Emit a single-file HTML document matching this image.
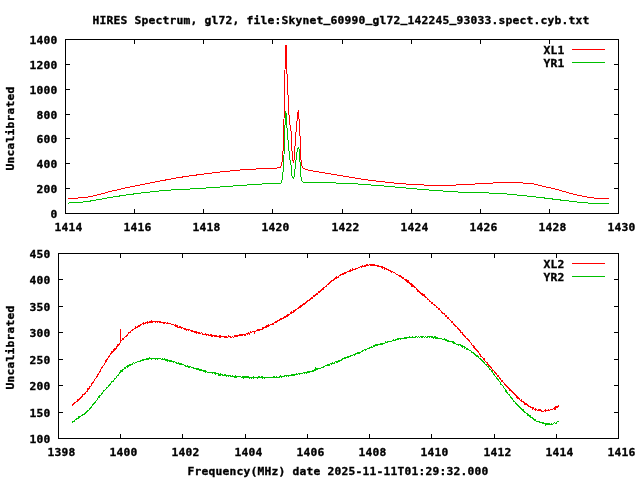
<!DOCTYPE html>
<html><head><meta charset="utf-8"><title>HIRES Spectrum</title>
<style>
html,body{margin:0;padding:0;background:#fff;}
body{width:640px;height:480px;overflow:hidden;}
svg{display:block;}
svg text{font-family:"DejaVu Sans Mono", "Liberation Mono", monospace;font-weight:bold;font-size:11.3px;letter-spacing:0.1968px;fill:#000;stroke:#000;stroke-width:0.35px;white-space:pre;}
.g{shape-rendering:crispEdges;}
</style></head><body>
<svg width="640" height="480" viewBox="0 0 640 480">
<rect width="640" height="480" fill="#fff"/>
<g class="g">
<polyline points="68.0,198.0 69.0,198.0 70.0,198.0 71.0,198.0 72.0,198.0 73.0,198.0 74.0,198.0 75.0,198.0 76.0,198.0 77.0,198.0 78.0,198.0 79.0,197.9 80.0,197.8 81.0,197.8 82.0,197.7 83.0,197.6 84.0,197.5 85.0,197.4 86.0,197.3 87.0,197.1 88.0,197.0 89.0,196.8 90.0,196.6 91.0,196.4 92.0,196.2 93.0,195.9 94.0,195.7 95.0,195.5 96.0,195.2 97.0,195.0 98.0,194.8 99.0,194.5 100.0,194.3 101.0,194.0 102.0,193.7 103.0,193.5 104.0,193.2 105.0,192.9 106.0,192.6 107.0,192.4 108.0,192.1 109.0,191.9 110.0,191.6 111.0,191.4 112.0,191.1 113.0,190.9 114.0,190.6 115.0,190.4 116.0,190.2 117.0,189.9 118.0,189.7 119.0,189.5 120.0,189.3 121.0,189.0 122.0,188.8 123.0,188.6 124.0,188.4 125.0,188.1 126.0,187.9 127.0,187.7 128.0,187.5 129.0,187.3 130.0,187.1 131.0,186.8 132.0,186.6 133.0,186.4 134.0,186.2 135.0,186.0 136.0,185.8 137.0,185.6 138.0,185.4 139.0,185.2 140.0,185.0 141.0,184.8 142.0,184.6 143.0,184.4 144.0,184.2 145.0,184.0 146.0,183.8 147.0,183.6 148.0,183.4 149.0,183.2 150.0,183.0 151.0,182.8 152.0,182.6 153.0,182.4 154.0,182.2 155.0,182.0 156.0,181.8 157.0,181.6 158.0,181.4 159.0,181.2 160.0,181.0 161.0,180.8 162.0,180.6 163.0,180.4 164.0,180.2 165.0,180.1 166.0,179.9 167.0,179.7 168.0,179.5 169.0,179.3 170.0,179.2 171.0,179.0 172.0,178.8 173.0,178.6 174.0,178.4 175.0,178.3 176.0,178.1 177.0,177.9 178.0,177.7 179.0,177.6 180.0,177.4 181.0,177.2 182.0,177.1 183.0,176.9 184.0,176.8 185.0,176.6 186.0,176.4 187.0,176.3 188.0,176.2 189.0,176.0 190.0,175.9 191.0,175.7 192.0,175.6 193.0,175.5 194.0,175.3 195.0,175.2 196.0,175.1 197.0,174.9 198.0,174.8 199.0,174.7 200.0,174.5 201.0,174.4 202.0,174.3 203.0,174.1 204.0,174.0 205.0,173.8 206.0,173.7 207.0,173.6 208.0,173.5 209.0,173.3 210.0,173.2 211.0,173.1 212.0,173.0 213.0,172.8 214.0,172.7 215.0,172.6 216.0,172.5 217.0,172.4 218.0,172.3 219.0,172.2 220.0,172.0 221.0,171.9 222.0,171.8 223.0,171.7 224.0,171.6 225.0,171.5 226.0,171.4 227.0,171.3 228.0,171.2 229.0,171.1 230.0,171.0 231.0,170.9 232.0,170.8 233.0,170.7 234.0,170.6 235.0,170.5 236.0,170.4 237.0,170.3 238.0,170.2 239.0,170.1 240.0,170.0 241.0,169.9 242.0,169.8 243.0,169.7 244.0,169.6 245.0,169.5 246.0,169.5 247.0,169.4 248.0,169.3 249.0,169.3 250.0,169.2 251.0,169.2 252.0,169.1 253.0,169.1 254.0,169.0 255.0,169.0 256.0,169.0 257.0,168.9 258.0,168.9 259.0,168.9 260.0,168.9 261.0,168.8 262.0,168.8 263.0,168.8 264.0,168.7 265.0,168.7 266.0,168.7 267.0,168.7 268.0,168.6 269.0,168.6 270.0,168.6 271.0,168.5 272.0,168.5 273.0,168.4 274.0,168.4 275.0,168.3 276.0,168.2 277.0,168.0 278.0,167.8 279.0,167.6 280.0,167.5 281.0,166.5 282.0,162.5 283.0,151.0 284.0,119.0 285.0,70.0 285.9,45.5 286.1,45.5 287.0,74.0 288.0,95.0 289.0,115.0 290.0,125.0 291.0,131.0 292.0,151.0 293.0,160.5 293.5,161.6 294.0,160.0 295.0,146.0 296.0,132.0 297.0,121.0 298.0,112.5 298.5,111.5 299.0,119.0 300.0,136.0 301.0,160.0 302.0,166.0 303.0,168.0 304.0,168.6 305.5,169.5 308.0,170.0 309.0,170.2 310.0,170.4 311.0,170.6 312.0,170.8 313.0,171.0 314.0,171.2 315.0,171.3 316.0,171.5 317.0,171.7 318.0,171.8 319.0,172.0 320.0,172.2 321.0,172.3 322.0,172.5 323.0,172.7 324.0,172.8 325.0,173.0 326.0,173.2 327.0,173.3 328.0,173.5 329.0,173.7 330.0,173.9 331.0,174.0 332.0,174.2 333.0,174.4 334.0,174.6 335.0,174.7 336.0,174.9 337.0,175.1 338.0,175.3 339.0,175.4 340.0,175.6 341.0,175.8 342.0,175.9 343.0,176.1 344.0,176.3 345.0,176.4 346.0,176.6 347.0,176.7 348.0,176.9 349.0,177.0 350.0,177.2 351.0,177.4 352.0,177.5 353.0,177.7 354.0,177.9 355.0,178.0 356.0,178.2 357.0,178.4 358.0,178.5 359.0,178.7 360.0,178.8 361.0,179.0 362.0,179.2 363.0,179.3 364.0,179.5 365.0,179.6 366.0,179.7 367.0,179.9 368.0,180.0 369.0,180.1 370.0,180.2 371.0,180.4 372.0,180.5 373.0,180.6 374.0,180.7 375.0,180.8 376.0,181.0 377.0,181.1 378.0,181.2 379.0,181.3 380.0,181.4 381.0,181.6 382.0,181.7 383.0,181.8 384.0,181.9 385.0,182.0 386.0,182.2 387.0,182.3 388.0,182.4 389.0,182.5 390.0,182.6 391.0,182.7 392.0,182.8 393.0,182.9 394.0,183.0 395.0,183.1 396.0,183.2 397.0,183.3 398.0,183.4 399.0,183.5 400.0,183.5 401.0,183.6 402.0,183.7 403.0,183.8 404.0,183.9 405.0,183.9 406.0,184.0 407.0,184.1 408.0,184.2 409.0,184.2 410.0,184.3 411.0,184.4 412.0,184.4 413.0,184.5 414.0,184.5 415.0,184.6 416.0,184.6 417.0,184.7 418.0,184.7 419.0,184.8 420.0,184.8 421.0,184.9 422.0,184.9 423.0,184.9 424.0,185.0 425.0,185.0 426.0,185.0 427.0,185.1 428.0,185.1 429.0,185.1 430.0,185.1 431.0,185.2 432.0,185.2 433.0,185.2 434.0,185.2 435.0,185.3 436.0,185.3 437.0,185.3 438.0,185.3 439.0,185.3 440.0,185.3 441.0,185.3 442.0,185.3 443.0,185.3 444.0,185.3 445.0,185.3 446.0,185.2 447.0,185.2 448.0,185.2 449.0,185.2 450.0,185.1 451.0,185.1 452.0,185.1 453.0,185.1 454.0,185.0 455.0,185.0 456.0,185.0 457.0,184.9 458.0,184.9 459.0,184.9 460.0,184.8 461.0,184.8 462.0,184.7 463.0,184.7 464.0,184.6 465.0,184.6 466.0,184.6 467.0,184.5 468.0,184.4 469.0,184.4 470.0,184.3 471.0,184.3 472.0,184.2 473.0,184.1 474.0,184.1 475.0,184.0 476.0,183.9 477.0,183.9 478.0,183.8 479.0,183.7 480.0,183.7 481.0,183.6 482.0,183.6 483.0,183.5 484.0,183.5 485.0,183.4 486.0,183.3 487.0,183.3 488.0,183.3 489.0,183.2 490.0,183.2 491.0,183.1 492.0,183.1 493.0,183.0 494.0,182.9 495.0,182.9 496.0,182.8 497.0,182.7 498.0,182.7 499.0,182.6 500.0,182.6 501.0,182.5 502.0,182.5 503.0,182.4 504.0,182.4 505.0,182.4 506.0,182.4 507.0,182.4 508.0,182.4 509.0,182.4 510.0,182.4 511.0,182.4 512.0,182.4 513.0,182.4 514.0,182.4 515.0,182.4 516.0,182.4 517.0,182.5 518.0,182.6 519.0,182.6 520.0,182.7 521.0,182.8 522.0,182.9 523.0,183.0 524.0,183.1 525.0,183.2 526.0,183.2 527.0,183.3 528.0,183.3 529.0,183.4 530.0,183.5 531.0,183.6 532.0,183.8 533.0,183.9 534.0,184.1 535.0,184.3 536.0,184.5 537.0,184.8 538.0,185.0 539.0,185.2 540.0,185.5 541.0,185.8 542.0,186.0 543.0,186.2 544.0,186.5 545.0,186.7 546.0,186.9 547.0,187.2 548.0,187.4 549.0,187.6 550.0,187.8 551.0,188.1 552.0,188.3 553.0,188.5 554.0,188.8 555.0,189.0 556.0,189.3 557.0,189.5 558.0,189.8 559.0,190.1 560.0,190.4 561.0,190.7 562.0,191.0 563.0,191.3 564.0,191.6 565.0,191.8 566.0,192.1 567.0,192.4 568.0,192.7 569.0,192.9 570.0,193.2 571.0,193.5 572.0,193.7 573.0,194.0 574.0,194.2 575.0,194.4 576.0,194.7 577.0,194.9 578.0,195.2 579.0,195.4 580.0,195.6 581.0,195.8 582.0,196.0 583.0,196.2 584.0,196.4 585.0,196.6 586.0,196.8 587.0,197.0 588.0,197.2 589.0,197.4 590.0,197.5 591.0,197.7 592.0,197.8 593.0,197.9 594.0,198.0 595.0,198.1 596.0,198.2 597.0,198.2 598.0,198.2 599.0,198.2 600.0,198.2 601.0,198.3 602.0,198.3 603.0,198.3 604.0,198.3 605.0,198.3 606.0,198.3 607.0,198.3 608.0,198.3 609.0,198.3" fill="none" stroke="#ff0000" stroke-width="1"/>
<polyline points="68.0,203.4 69.0,203.0 70.0,202.9 71.0,202.8 72.0,202.8 73.0,202.7 74.0,202.7 75.0,202.7 76.0,202.6 77.0,202.5 78.0,202.5 79.0,202.4 80.0,202.3 81.0,202.2 82.0,202.1 83.0,202.0 84.0,201.9 85.0,201.8 86.0,201.7 87.0,201.5 88.0,201.4 89.0,201.2 90.0,201.1 91.0,200.9 92.0,200.7 93.0,200.5 94.0,200.3 95.0,200.1 96.0,200.0 97.0,199.8 98.0,199.6 99.0,199.5 100.0,199.3 101.0,199.1 102.0,199.0 103.0,198.8 104.0,198.6 105.0,198.4 106.0,198.3 107.0,198.1 108.0,197.9 109.0,197.8 110.0,197.6 111.0,197.4 112.0,197.3 113.0,197.1 114.0,196.9 115.0,196.7 116.0,196.6 117.0,196.4 118.0,196.2 119.0,196.1 120.0,195.9 121.0,195.8 122.0,195.6 123.0,195.4 124.0,195.3 125.0,195.2 126.0,195.0 127.0,194.9 128.0,194.7 129.0,194.6 130.0,194.5 131.0,194.3 132.0,194.2 133.0,194.1 134.0,193.9 135.0,193.8 136.0,193.7 137.0,193.5 138.0,193.4 139.0,193.3 140.0,193.2 141.0,193.0 142.0,192.9 143.0,192.8 144.0,192.7 145.0,192.6 146.0,192.4 147.0,192.3 148.0,192.2 149.0,192.1 150.0,192.0 151.0,191.9 152.0,191.7 153.0,191.6 154.0,191.5 155.0,191.4 156.0,191.3 157.0,191.2 158.0,191.1 159.0,191.0 160.0,190.9 161.0,190.8 162.0,190.7 163.0,190.6 164.0,190.5 165.0,190.4 166.0,190.4 167.0,190.3 168.0,190.2 169.0,190.1 170.0,190.0 171.0,190.0 172.0,189.9 173.0,189.8 174.0,189.8 175.0,189.7 176.0,189.7 177.0,189.6 178.0,189.6 179.0,189.5 180.0,189.4 181.0,189.4 182.0,189.3 183.0,189.3 184.0,189.2 185.0,189.2 186.0,189.2 187.0,189.1 188.0,189.1 189.0,189.0 190.0,189.0 191.0,188.9 192.0,188.9 193.0,188.8 194.0,188.8 195.0,188.8 196.0,188.7 197.0,188.7 198.0,188.6 199.0,188.5 200.0,188.5 201.0,188.4 202.0,188.3 203.0,188.3 204.0,188.2 205.0,188.1 206.0,188.0 207.0,187.9 208.0,187.9 209.0,187.8 210.0,187.7 211.0,187.6 212.0,187.6 213.0,187.5 214.0,187.4 215.0,187.3 216.0,187.3 217.0,187.2 218.0,187.1 219.0,187.0 220.0,187.0 221.0,186.9 222.0,186.8 223.0,186.7 224.0,186.7 225.0,186.6 226.0,186.5 227.0,186.5 228.0,186.4 229.0,186.3 230.0,186.2 231.0,186.1 232.0,186.1 233.0,186.0 234.0,185.9 235.0,185.8 236.0,185.8 237.0,185.7 238.0,185.6 239.0,185.6 240.0,185.5 241.0,185.4 242.0,185.3 243.0,185.3 244.0,185.2 245.0,185.1 246.0,185.1 247.0,185.0 248.0,184.9 249.0,184.9 250.0,184.8 251.0,184.7 252.0,184.7 253.0,184.6 254.0,184.5 255.0,184.5 256.0,184.4 257.0,184.3 258.0,184.2 259.0,184.2 260.0,184.1 261.0,184.1 262.0,184.0 263.0,183.9 264.0,183.9 265.0,183.8 266.0,183.8 267.0,183.7 268.0,183.7 269.0,183.6 270.0,183.6 271.0,183.5 272.0,183.5 273.0,183.5 274.0,183.5 275.0,183.5 276.0,183.4 277.0,183.4 278.0,183.4 279.0,183.3 280.0,183.2 281.0,183.0 282.0,180.0 283.0,172.0 284.0,155.0 285.0,125.0 285.7,111.5 286.0,112.5 287.0,128.0 288.0,140.0 289.0,151.0 290.0,160.0 291.0,165.0 292.0,176.0 293.0,178.3 293.5,178.8 294.0,177.0 295.0,169.0 296.0,160.0 297.0,152.0 298.0,148.0 298.5,147.5 299.0,149.0 300.0,162.0 301.0,177.0 302.0,181.0 303.0,182.2 305.5,182.5 310.0,182.5 311.0,182.5 312.0,182.5 313.0,182.5 314.0,182.5 315.0,182.5 316.0,182.5 317.0,182.5 318.0,182.5 319.0,182.5 320.0,182.5 321.0,182.6 322.0,182.6 323.0,182.6 324.0,182.6 325.0,182.6 326.0,182.6 327.0,182.6 328.0,182.7 329.0,182.7 330.0,182.7 331.0,182.7 332.0,182.8 333.0,182.8 334.0,182.9 335.0,182.9 336.0,183.0 337.0,183.0 338.0,183.1 339.0,183.1 340.0,183.2 341.0,183.2 342.0,183.3 343.0,183.3 344.0,183.3 345.0,183.4 346.0,183.4 347.0,183.4 348.0,183.4 349.0,183.5 350.0,183.5 351.0,183.5 352.0,183.6 353.0,183.7 354.0,183.7 355.0,183.8 356.0,183.9 357.0,183.9 358.0,184.0 359.0,184.1 360.0,184.1 361.0,184.2 362.0,184.3 363.0,184.4 364.0,184.4 365.0,184.5 366.0,184.6 367.0,184.6 368.0,184.7 369.0,184.8 370.0,184.9 371.0,185.0 372.0,185.0 373.0,185.1 374.0,185.2 375.0,185.3 376.0,185.3 377.0,185.4 378.0,185.5 379.0,185.6 380.0,185.7 381.0,185.7 382.0,185.8 383.0,185.9 384.0,186.0 385.0,186.1 386.0,186.2 387.0,186.2 388.0,186.3 389.0,186.4 390.0,186.5 391.0,186.6 392.0,186.7 393.0,186.8 394.0,186.9 395.0,187.0 396.0,187.0 397.0,187.1 398.0,187.2 399.0,187.3 400.0,187.4 401.0,187.5 402.0,187.6 403.0,187.7 404.0,187.8 405.0,187.9 406.0,188.0 407.0,188.1 408.0,188.2 409.0,188.3 410.0,188.3 411.0,188.4 412.0,188.5 413.0,188.6 414.0,188.7 415.0,188.8 416.0,188.9 417.0,189.0 418.0,189.1 419.0,189.1 420.0,189.2 421.0,189.3 422.0,189.4 423.0,189.5 424.0,189.6 425.0,189.7 426.0,189.7 427.0,189.8 428.0,189.9 429.0,190.0 430.0,190.1 431.0,190.1 432.0,190.2 433.0,190.3 434.0,190.4 435.0,190.4 436.0,190.5 437.0,190.6 438.0,190.7 439.0,190.7 440.0,190.8 441.0,190.9 442.0,190.9 443.0,191.0 444.0,191.1 445.0,191.1 446.0,191.2 447.0,191.3 448.0,191.3 449.0,191.4 450.0,191.5 451.0,191.5 452.0,191.6 453.0,191.7 454.0,191.7 455.0,191.8 456.0,191.8 457.0,191.9 458.0,192.0 459.0,192.0 460.0,192.1 461.0,192.1 462.0,192.2 463.0,192.2 464.0,192.3 465.0,192.3 466.0,192.3 467.0,192.4 468.0,192.4 469.0,192.4 470.0,192.4 471.0,192.4 472.0,192.5 473.0,192.5 474.0,192.5 475.0,192.5 476.0,192.6 477.0,192.6 478.0,192.6 479.0,192.6 480.0,192.7 481.0,192.7 482.0,192.7 483.0,192.7 484.0,192.8 485.0,192.8 486.0,192.8 487.0,192.9 488.0,192.9 489.0,193.0 490.0,193.0 491.0,193.0 492.0,193.1 493.0,193.1 494.0,193.2 495.0,193.2 496.0,193.3 497.0,193.3 498.0,193.4 499.0,193.4 500.0,193.5 501.0,193.6 502.0,193.6 503.0,193.7 504.0,193.7 505.0,193.8 506.0,193.9 507.0,194.0 508.0,194.0 509.0,194.1 510.0,194.2 511.0,194.3 512.0,194.4 513.0,194.5 514.0,194.6 515.0,194.8 516.0,194.9 517.0,195.0 518.0,195.1 519.0,195.2 520.0,195.3 521.0,195.4 522.0,195.5 523.0,195.6 524.0,195.7 525.0,195.8 526.0,195.9 527.0,196.0 528.0,196.1 529.0,196.2 530.0,196.3 531.0,196.4 532.0,196.5 533.0,196.6 534.0,196.7 535.0,196.9 536.0,197.0 537.0,197.1 538.0,197.2 539.0,197.3 540.0,197.5 541.0,197.6 542.0,197.7 543.0,197.8 544.0,197.9 545.0,198.1 546.0,198.2 547.0,198.3 548.0,198.4 549.0,198.6 550.0,198.7 551.0,198.8 552.0,198.9 553.0,199.1 554.0,199.2 555.0,199.3 556.0,199.4 557.0,199.6 558.0,199.7 559.0,199.8 560.0,199.9 561.0,200.1 562.0,200.2 563.0,200.3 564.0,200.4 565.0,200.6 566.0,200.7 567.0,200.8 568.0,200.9 569.0,201.0 570.0,201.2 571.0,201.3 572.0,201.4 573.0,201.5 574.0,201.6 575.0,201.8 576.0,201.9 577.0,202.0 578.0,202.1 579.0,202.2 580.0,202.3 581.0,202.4 582.0,202.5 583.0,202.6 584.0,202.7 585.0,202.8 586.0,202.9 587.0,202.9 588.0,203.0 589.0,203.1 590.0,203.1 591.0,203.2 592.0,203.2 593.0,203.3 594.0,203.3 595.0,203.3 596.0,203.3 597.0,203.3 598.0,203.3 599.0,203.4 600.0,203.4 601.0,203.4 602.0,203.4 603.0,203.4 604.0,203.4 605.0,203.4 606.0,203.4 607.0,203.4 608.0,203.4 609.0,203.4" fill="none" stroke="#00c000" stroke-width="1"/>
<polyline points="72.4,405.1 72.8,405.2 73.2,403.8 73.6,403.9 74.0,403.4 74.4,402.9 74.8,402.7 75.2,402.6 75.6,402.4 76.0,402.2 76.4,401.7 76.8,401.7 77.2,400.6 77.6,401.2 78.0,399.6 78.4,400.1 78.8,399.4 79.2,399.2 79.6,398.2 80.0,397.9 80.4,398.4 80.8,398.2 81.2,396.8 81.6,397.0 82.0,396.8 82.4,396.4 82.8,394.8 83.2,394.3 83.6,394.1 84.0,394.7 84.4,393.1 84.8,393.2 85.2,393.6 85.6,392.5 86.0,392.3 86.4,391.3 86.8,391.4 87.2,391.2 87.6,389.5 88.0,390.1 88.4,390.0 88.8,389.1 89.2,387.8 89.6,388.0 90.0,386.5 90.4,386.4 90.8,386.5 91.2,385.0 91.6,384.4 92.0,383.5 92.4,382.8 92.8,383.2 93.2,381.9 93.6,381.4 94.0,381.1 94.4,379.8 94.8,380.0 95.2,378.7 95.6,378.8 96.0,378.3 96.4,376.8 96.8,376.6 97.2,376.4 97.6,375.3 98.0,374.1 98.4,374.1 98.8,373.6 99.2,372.7 99.6,372.7 100.0,371.4 100.4,371.2 100.8,369.3 101.2,368.6 101.6,368.9 102.0,367.6 102.4,366.6 102.8,367.1 103.2,365.5 103.6,365.4 104.0,364.7 104.4,364.2 104.8,363.2 105.2,362.7 105.6,361.4 106.0,360.6 106.4,360.9 106.8,359.6 107.2,359.8 107.6,358.7 108.0,358.1 108.4,356.7 108.8,357.4 109.2,356.1 109.6,355.7 110.0,354.9 110.4,354.1 110.8,354.5 111.2,353.5 111.6,352.1 112.0,352.5 112.4,351.6 112.8,351.5 113.2,351.5 113.6,350.3 114.0,350.7 114.4,349.8 114.8,348.4 115.2,349.3 115.6,348.5 116.0,348.5 116.4,346.8 116.8,346.2 117.2,346.9 117.6,346.1 118.0,344.6 118.4,345.1 118.8,344.6 119.2,344.3 120.0,343.0 120.0,329.0 120.0,342.5 120.5,341.4 120.9,340.4 121.3,340.8 121.7,340.3 122.1,339.9 122.5,339.3 122.9,338.8 123.3,339.0 123.7,338.2 124.1,337.7 124.5,337.9 124.9,337.3 125.3,336.4 125.7,336.5 126.1,335.6 126.5,336.1 126.9,335.8 127.3,334.9 127.7,335.0 128.1,333.5 128.5,333.7 128.9,332.7 129.3,332.8 129.7,332.0 130.1,331.7 130.5,332.0 130.9,331.1 131.3,330.6 131.7,330.4 132.1,330.2 132.5,330.1 132.9,329.3 133.3,329.7 133.7,329.1 134.1,328.9 134.5,328.4 134.9,328.7 135.3,328.1 135.7,327.2 136.1,327.8 136.5,327.9 136.9,326.9 137.3,327.3 137.7,326.2 138.1,326.3 138.5,325.9 138.9,325.7 139.3,326.0 139.7,325.4 140.1,325.8 140.5,325.0 140.9,324.1 141.3,324.4 141.7,324.9 142.1,324.1 142.5,323.4 142.9,323.5 143.3,323.1 143.7,324.4 144.1,324.2 144.5,323.8 144.9,323.4 145.3,323.5 145.7,322.5 146.1,322.6 146.5,322.8 146.9,322.5 147.3,321.9 147.7,323.2 148.1,322.3 148.5,322.3 148.9,322.0 149.3,321.8 149.7,322.0 150.1,322.6 150.5,322.4 150.9,321.8 151.3,321.2 151.7,322.4 152.1,321.5 152.5,322.0 152.9,321.1 153.3,322.0 153.7,321.6 154.1,321.7 154.5,321.6 154.9,321.5 155.3,321.8 155.7,322.4 156.1,321.1 156.5,321.4 156.9,321.0 157.3,322.1 157.7,322.0 158.1,321.4 158.5,321.7 158.9,322.0 159.3,322.1 159.7,321.4 160.1,322.5 160.5,322.4 160.9,321.4 161.3,322.6 161.7,322.5 162.1,322.6 162.5,322.3 162.9,321.9 163.3,323.0 163.7,322.6 164.1,322.3 164.5,322.2 164.9,323.3 165.3,322.6 165.7,322.9 166.1,323.1 166.5,323.5 166.9,323.3 167.3,322.8 167.7,323.5 168.1,323.4 168.5,323.6 168.9,324.0 169.3,323.4 169.7,323.4 170.1,323.4 170.5,323.8 170.9,323.5 171.3,324.6 171.7,324.2 172.1,324.2 172.5,324.2 172.9,324.6 173.3,324.6 173.7,324.8 174.1,325.3 174.5,325.5 174.9,326.1 175.3,326.4 175.7,325.2 176.1,325.6 176.5,326.3 176.9,325.7 177.3,326.9 177.7,326.1 178.1,327.0 178.5,327.0 178.9,327.4 179.3,326.4 179.7,326.8 180.1,327.7 180.5,326.9 180.9,326.9 181.3,327.6 181.7,328.1 182.1,327.4 182.5,327.5 182.9,327.6 183.3,328.3 183.7,328.8 184.1,328.3 184.5,329.4 184.9,328.9 185.3,329.3 185.7,328.9 186.1,329.5 186.5,330.1 186.9,329.5 187.3,329.3 187.7,329.7 188.1,329.8 188.5,330.0 188.9,330.2 189.3,329.6 189.7,329.9 190.1,330.4 190.5,330.9 190.9,331.1 191.3,331.2 191.7,330.9 192.1,331.7 192.5,330.9 192.9,331.2 193.3,331.7 193.7,332.0 194.1,331.4 194.5,332.2 194.9,331.7 195.3,332.2 195.7,331.2 196.1,331.4 196.5,332.8 196.9,331.7 197.3,332.6 197.7,332.2 198.1,332.1 198.5,332.5 198.9,333.4 199.3,333.0 199.7,333.6 200.1,333.4 200.5,333.2 200.9,333.3 201.3,333.0 201.7,332.7 202.1,333.4 202.5,333.8 202.9,334.3 203.3,334.1 203.7,334.4 204.1,334.7 204.5,334.8 204.9,334.7 205.3,333.7 205.7,334.1 206.1,334.0 206.5,335.1 206.9,335.0 207.3,334.4 207.7,334.9 208.1,335.3 208.5,335.4 208.9,334.5 209.3,335.4 209.7,335.6 210.1,334.5 210.5,334.7 210.9,335.3 211.3,335.0 211.7,336.1 212.1,335.9 212.5,336.0 212.9,336.1 213.3,335.5 213.7,335.4 214.1,336.1 214.5,335.8 214.9,336.6 215.3,336.3 215.7,335.9 216.1,336.7 216.5,336.0 216.9,335.8 217.3,336.7 217.7,336.3 218.1,336.0 218.5,336.7 218.9,337.2 219.3,336.1 219.7,337.0 220.1,337.0 220.5,336.1 220.9,337.2 221.3,336.6 221.7,336.1 222.1,336.8 222.5,336.4 222.9,336.2 223.3,336.1 223.7,336.3 224.1,336.6 224.5,337.0 224.9,336.2 225.3,337.1 225.7,336.2 226.1,336.3 226.5,337.1 226.9,337.4 227.3,337.5 227.7,337.0 228.1,336.8 228.5,336.2 228.9,336.9 229.3,336.3 229.7,336.8 230.1,336.9 230.5,337.2 230.9,336.4 231.3,337.4 231.7,337.4 232.1,337.1 232.5,336.8 232.9,336.9 233.3,337.0 233.7,337.1 234.1,336.9 234.5,336.6 234.9,335.7 235.3,336.4 235.7,336.0 236.1,335.6 236.5,336.7 236.9,336.5 237.3,336.0 237.7,335.9 238.1,335.8 238.5,335.4 238.9,335.6 239.3,335.5 239.7,334.8 240.1,336.1 240.5,334.7 240.9,335.1 241.3,334.6 241.7,334.7 242.1,335.7 242.5,334.8 242.9,335.2 243.3,334.2 243.7,334.3 244.1,335.2 244.5,335.1 244.9,334.1 245.3,335.0 245.7,334.5 246.1,334.1 246.5,333.8 246.9,333.6 247.3,334.4 247.7,333.9 248.1,333.6 248.5,332.7 248.9,332.9 249.3,333.9 249.7,333.2 250.1,332.8 250.5,332.1 250.9,332.4 251.3,332.2 251.7,332.0 252.1,332.1 252.5,331.8 252.9,331.4 253.3,331.4 253.7,331.8 254.1,331.0 254.5,332.2 254.9,331.0 255.3,331.2 255.7,331.0 256.1,330.7 256.5,330.6 256.9,330.3 257.3,330.2 257.7,329.8 258.1,330.5 258.5,330.3 258.9,329.6 259.3,330.3 259.7,329.4 260.1,329.6 260.5,329.3 260.9,328.9 261.3,329.6 261.7,329.3 262.1,329.2 262.5,329.2 262.9,327.6 263.3,328.1 263.7,328.6 264.1,327.2 264.5,327.2 264.9,327.4 265.3,327.5 265.7,326.8 266.1,326.6 266.5,327.1 266.9,325.8 267.3,326.7 267.7,326.0 268.1,326.1 268.5,326.0 268.9,324.9 269.3,325.9 269.7,325.6 270.1,324.8 270.5,324.3 270.9,323.9 271.3,324.1 271.7,324.5 272.1,324.4 272.5,323.5 272.9,323.1 273.3,323.1 273.7,323.9 274.1,322.4 274.5,322.2 274.9,322.8 275.3,321.8 275.7,321.8 276.1,322.4 276.5,321.4 276.9,321.6 277.3,321.4 277.7,320.7 278.1,320.5 278.5,320.3 278.9,321.0 279.3,319.5 279.7,319.4 280.1,319.5 280.5,319.1 280.9,319.4 281.3,319.1 281.7,318.8 282.1,318.3 282.5,318.4 282.9,318.6 283.3,318.4 283.7,317.7 284.1,317.9 284.5,316.5 284.9,316.4 285.3,317.1 285.7,316.3 286.1,316.0 286.5,316.1 286.9,315.6 287.3,316.1 287.7,315.1 288.1,315.5 288.5,314.9 288.9,315.1 289.3,314.2 289.7,314.7 290.1,313.9 290.5,312.8 290.9,313.6 291.3,313.5 291.7,312.1 292.1,313.1 292.5,312.3 292.9,312.3 293.3,311.2 293.7,312.0 294.1,311.3 294.5,310.9 294.9,311.3 295.3,310.4 295.7,310.1 296.1,309.1 296.5,309.5 296.9,309.6 297.3,308.7 297.7,308.9 298.1,308.5 298.5,307.6 298.9,307.9 299.3,307.5 299.7,307.0 300.1,307.2 300.5,306.0 300.9,306.2 301.3,305.9 301.7,306.5 302.1,305.7 302.5,305.3 302.9,304.3 303.3,304.4 303.7,304.0 304.1,304.6 304.5,303.5 304.9,303.8 305.3,303.2 305.7,303.3 306.1,301.6 306.5,302.7 306.9,302.4 307.3,300.9 307.7,300.5 308.1,300.5 308.5,300.6 308.9,300.2 309.3,299.8 309.7,300.2 310.1,299.3 310.5,299.6 310.9,298.7 311.3,297.8 311.7,298.7 312.1,298.4 312.5,297.3 312.9,297.4 313.3,296.9 313.7,295.9 314.1,296.2 314.5,296.0 314.9,295.6 315.3,295.2 315.7,294.9 316.1,294.8 316.5,294.6 316.9,293.2 317.3,294.1 317.7,293.1 318.1,293.2 318.5,292.4 318.9,291.5 319.3,292.1 319.7,291.3 320.1,291.3 320.5,290.5 320.9,290.1 321.3,289.9 321.7,290.4 322.1,290.1 322.5,289.9 322.9,288.7 323.3,288.9 323.7,287.6 324.1,288.1 324.5,287.3 324.9,287.5 325.3,286.2 325.7,286.8 326.1,285.3 326.5,286.1 326.9,285.2 327.3,284.4 327.7,284.3 328.1,284.6 328.5,283.8 328.9,283.2 329.3,282.9 329.7,283.2 330.1,282.8 330.5,281.7 330.9,282.5 331.3,281.1 331.7,281.0 332.1,280.3 332.5,280.8 332.9,281.0 333.3,280.8 333.7,279.8 334.1,278.9 334.5,279.2 334.9,278.6 335.3,278.4 335.7,278.0 336.1,278.8 336.5,277.7 336.9,276.8 337.3,277.3 337.7,277.3 338.1,277.2 338.5,276.9 338.9,276.5 339.3,275.5 339.7,275.5 340.1,275.5 340.5,274.8 340.9,275.0 341.3,274.3 341.7,274.1 342.1,275.0 342.5,273.8 342.9,274.1 343.3,274.1 343.7,274.4 344.1,273.2 344.5,272.9 344.9,273.7 345.3,272.7 345.7,272.5 346.1,272.1 346.5,272.4 346.9,271.9 347.3,271.9 347.7,271.7 348.1,272.0 348.5,271.5 348.9,271.7 349.3,271.0 349.7,270.9 350.1,271.7 350.5,270.4 350.9,271.0 351.3,270.8 351.7,270.5 352.1,269.6 352.5,269.2 352.9,270.2 353.3,269.0 353.7,269.1 354.1,270.1 354.5,269.9 354.9,269.7 355.3,269.0 355.7,268.6 356.1,268.5 356.5,268.2 356.9,269.0 357.3,268.6 357.7,268.7 358.1,267.5 358.5,267.8 358.9,267.8 359.3,267.3 359.7,267.4 360.1,266.7 360.5,266.8 360.9,266.4 361.3,267.0 361.7,266.4 362.1,266.4 362.5,266.2 362.9,265.6 363.3,266.8 363.7,266.4 364.1,265.7 364.5,266.4 364.9,266.0 365.3,266.4 365.7,265.5 366.1,264.9 366.5,264.8 366.9,265.7 367.3,265.4 367.7,264.7 368.1,265.2 368.5,265.1 368.9,265.5 369.3,264.3 369.7,264.3 370.1,264.8 370.5,264.4 370.9,265.7 371.3,264.5 371.7,265.1 372.1,264.9 372.5,265.4 372.9,264.4 373.3,264.8 373.7,265.1 374.1,264.6 374.5,265.5 374.9,265.3 375.3,265.8 375.7,265.3 376.1,265.2 376.5,265.3 376.9,265.2 377.3,266.4 377.7,266.3 378.1,265.7 378.5,266.0 378.9,265.6 379.3,266.4 379.7,266.8 380.1,266.1 380.5,266.6 380.9,267.0 381.3,266.8 381.7,267.1 382.1,266.7 382.5,267.8 382.9,266.9 383.3,267.6 383.7,267.5 384.1,267.4 384.5,268.6 384.9,267.8 385.3,268.4 385.7,268.8 386.1,268.5 386.5,268.9 386.9,269.2 387.3,269.3 387.7,269.3 388.1,269.3 388.5,270.5 388.9,270.1 389.3,270.6 389.7,270.5 390.1,270.3 390.5,270.8 390.9,271.5 391.3,271.8 391.7,272.1 392.1,271.2 392.5,271.6 392.9,271.5 393.3,273.0 393.7,272.7 394.1,273.1 394.5,272.9 394.9,272.8 395.3,273.3 395.7,273.4 396.1,274.0 396.5,274.6 396.9,274.9 397.3,274.3 397.7,274.4 398.1,275.5 398.5,275.2 398.9,275.1 399.3,276.0 399.7,275.5 400.1,275.8 400.5,275.9 400.9,276.4 401.3,277.1 401.7,276.9 402.1,277.0 402.5,277.9 402.9,278.8 403.3,277.7 403.7,278.3 404.1,279.6 404.5,279.5 404.9,280.0 405.3,280.4 405.7,279.7 406.1,280.8 406.5,280.3 406.9,281.6 407.3,281.9 407.7,281.0 408.1,282.3 408.5,281.5 408.9,282.6 409.3,282.7 409.7,283.2 410.1,283.8 410.5,284.2 410.9,284.0 411.3,283.7 411.7,285.3 412.1,284.3 412.5,285.8 412.9,285.1 413.3,286.6 413.7,286.6 414.1,286.4 414.5,287.6 414.9,287.0 415.3,287.4 415.7,287.9 416.1,288.4 416.5,288.5 416.9,289.9 417.3,289.5 417.7,290.6 418.1,289.9 418.5,290.6 418.9,291.5 419.3,292.1 419.7,291.7 420.1,292.0 420.5,293.1 420.9,292.7 421.3,293.0 421.7,294.2 422.1,293.8 422.5,293.6 422.9,295.2 423.3,294.9 423.7,295.0 424.1,296.2 424.5,295.2 424.9,296.9 425.3,296.0 425.7,296.3 426.1,298.0 426.5,297.6 426.9,297.5 427.3,299.1 427.7,298.5 428.1,299.8 428.5,299.4 428.9,299.6 429.3,300.3 429.7,301.1 430.1,301.6 430.5,301.5 430.9,301.4 431.3,302.5 431.7,303.0 432.1,302.8 432.5,303.4 432.9,304.0 433.3,304.1 433.7,304.4 434.1,304.4 434.5,305.1 434.9,305.0 435.3,305.1 435.7,305.7 436.1,306.4 436.5,306.6 436.9,307.5 437.3,307.4 437.7,308.0 438.1,308.1 438.5,308.1 438.9,309.5 439.3,309.1 439.7,309.9 440.1,310.4 440.5,310.9 440.9,310.9 441.3,311.1 441.7,312.4 442.1,312.4 442.5,312.2 442.9,313.4 443.3,313.4 443.7,313.6 444.1,313.5 444.5,314.1 444.9,314.3 445.3,315.6 445.7,316.1 446.1,316.0 446.5,315.8 446.9,316.4 447.3,317.9 447.7,318.3 448.1,317.9 448.5,317.9 448.9,318.8 449.3,319.2 449.7,319.0 450.1,320.4 450.5,320.8 450.9,321.1 451.3,321.8 451.7,322.2 452.1,321.8 452.5,322.0 452.9,322.8 453.3,324.0 453.7,324.3 454.1,324.0 454.5,325.1 454.9,325.3 455.3,325.3 455.7,326.4 456.1,326.2 456.5,326.7 456.9,326.9 457.3,327.9 457.7,328.2 458.1,328.9 458.5,328.4 458.9,329.4 459.3,329.3 459.7,330.2 460.1,330.3 460.5,331.4 460.9,332.4 461.3,332.8 461.7,332.7 462.1,332.9 462.5,332.9 462.9,334.3 463.3,334.2 463.7,334.8 464.1,335.6 464.5,335.4 464.9,336.4 465.3,336.7 465.7,337.1 466.1,338.2 466.5,338.5 466.9,338.1 467.3,339.7 467.7,338.8 468.1,339.7 468.5,340.0 468.9,340.8 469.3,340.9 469.7,341.6 470.1,342.3 470.5,342.9 470.9,343.0 471.3,343.2 471.7,344.4 472.1,345.0 472.5,345.5 472.9,345.1 473.3,345.7 473.7,347.0 474.1,346.7 474.5,347.1 474.9,348.2 475.3,348.5 475.7,349.5 476.1,349.0 476.5,349.8 476.9,350.4 477.3,350.9 477.7,351.0 478.1,352.3 478.5,351.9 478.9,352.9 479.3,354.3 479.7,353.6 480.1,354.8 480.5,355.0 480.9,356.2 481.3,356.0 481.7,356.1 482.1,357.8 482.5,357.8 482.9,357.4 483.3,358.5 483.7,358.7 484.1,360.0 484.5,359.4 484.9,360.6 485.3,361.6 485.7,362.0 486.1,362.4 486.5,362.5 486.9,362.5 487.3,362.6 487.7,363.2 488.1,364.8 488.5,365.0 488.9,364.6 489.3,366.4 489.7,366.2 490.1,366.1 490.5,367.1 490.9,367.4 491.3,367.6 491.7,368.8 492.1,369.1 492.5,369.2 492.9,370.5 493.3,370.6 493.7,370.8 494.1,371.0 494.5,372.0 494.9,372.0 495.3,373.6 495.7,373.4 496.1,374.6 496.5,374.2 496.9,374.9 497.3,375.4 497.7,376.5 498.1,375.8 498.5,376.7 498.9,376.7 499.3,378.4 499.7,378.7 500.1,378.6 500.5,379.4 500.9,379.7 501.3,380.3 501.7,381.1 502.1,381.8 502.5,380.9 502.9,382.1 503.3,383.0 503.7,382.7 504.1,383.0 504.5,383.2 504.9,384.4 505.3,384.3 505.7,385.0 506.1,385.4 506.5,386.2 506.9,387.2 507.3,387.6 507.7,387.0 508.1,387.4 508.5,388.5 508.9,388.9 509.3,388.7 509.7,390.2 510.1,390.4 510.5,389.9 510.9,390.7 511.3,390.5 511.7,391.6 512.1,392.1 512.5,391.9 512.9,392.2 513.3,392.7 513.7,393.6 514.1,393.3 514.5,393.9 514.9,394.4 515.3,395.1 515.7,395.6 516.1,395.8 516.5,396.6 516.9,397.4 517.3,396.7 517.7,398.2 518.1,397.6 518.5,398.4 518.9,398.3 519.3,399.2 519.7,399.8 520.1,400.0 520.5,400.1 520.9,400.3 521.3,400.1 521.7,401.4 522.1,402.0 522.5,401.8 522.9,402.0 523.3,401.7 523.7,402.2 524.1,402.6 524.5,402.7 524.9,404.2 525.3,404.4 525.7,403.9 526.1,403.8 526.5,404.5 526.9,404.4 527.3,405.2 527.7,405.0 528.1,405.0 528.5,406.1 528.9,406.0 529.3,406.7 529.7,406.7 530.1,407.0 530.5,406.8 530.9,407.4 531.3,407.5 531.7,407.8 532.1,407.2 532.5,408.8 532.9,407.9 533.3,407.8 533.7,408.4 534.1,409.1 534.5,409.7 534.9,409.7 535.3,409.1 535.7,410.0 536.1,408.9 536.5,409.1 536.9,409.4 537.3,410.4 537.7,410.4 538.1,409.6 538.5,410.5 538.9,410.7 539.3,409.9 539.7,410.7 540.1,410.4 540.5,410.0 540.9,410.7 541.3,410.8 541.7,411.4 542.1,411.0 542.5,411.4 542.9,410.9 543.3,411.3 543.7,411.7 544.1,410.3 544.5,410.9 544.9,410.9 545.3,411.4 545.7,410.2 546.1,411.0 546.5,410.4 546.9,410.7 547.3,410.9 547.7,410.7 548.1,410.1 548.5,409.9 548.9,410.8 549.3,410.2 549.7,410.8 550.1,410.2 550.5,409.5 550.9,409.3 551.3,409.4 551.7,409.9 552.1,409.3 552.5,409.2 552.9,409.1 553.3,408.3 553.7,408.4 554.1,408.1 554.5,408.9 554.9,407.3 555.3,408.5 555.7,407.1 556.1,407.5 556.5,406.9 556.9,406.7 557.3,407.2 557.7,406.8 558.1,406.7 558.5,405.6 558.9,405.3" fill="none" stroke="#ff0000" stroke-width="1"/>
<polyline points="72.4,422.1 72.8,422.0 73.2,421.2 73.6,421.3 74.0,421.5 74.4,421.2 74.8,420.0 75.2,419.8 75.6,419.4 76.0,419.6 76.4,418.8 76.8,419.1 77.2,419.0 77.6,418.3 78.0,418.5 78.4,418.1 78.8,417.1 79.2,417.5 79.6,416.8 80.0,416.7 80.4,416.3 80.8,416.5 81.2,415.9 81.6,415.2 82.0,415.4 82.4,415.4 82.8,414.5 83.2,414.1 83.6,414.0 84.0,414.4 84.4,414.2 84.8,413.6 85.2,413.6 85.6,413.2 86.0,412.3 86.4,411.7 86.8,412.1 87.2,411.7 87.6,411.1 88.0,410.5 88.4,410.4 88.8,410.1 89.2,409.4 89.6,409.0 90.0,408.7 90.4,408.8 90.8,407.9 91.2,407.0 91.6,406.5 92.0,406.2 92.4,405.4 92.8,404.9 93.2,404.8 93.6,403.7 94.0,403.7 94.4,403.0 94.8,402.9 95.2,402.4 95.6,401.8 96.0,401.2 96.4,400.3 96.8,400.1 97.2,399.2 97.6,399.0 98.0,398.1 98.4,397.8 98.8,396.8 99.2,396.5 99.6,397.0 100.0,395.6 100.4,395.7 100.8,395.1 101.2,394.8 101.6,393.9 102.0,393.6 102.4,392.5 102.8,392.0 103.2,391.7 103.6,391.1 104.0,390.6 104.4,390.1 104.8,390.2 105.2,389.3 105.6,389.8 106.0,389.0 106.4,388.3 106.8,388.1 107.2,387.0 107.6,387.4 108.0,386.9 108.4,386.3 108.8,385.5 109.2,385.5 109.6,384.9 110.0,384.4 110.4,384.3 110.8,383.4 111.2,382.7 111.6,382.5 112.0,381.6 112.4,381.1 112.8,381.4 113.2,381.1 113.6,380.9 114.0,380.3 114.4,379.5 114.8,378.5 115.2,378.6 115.6,378.7 116.0,378.1 116.4,377.3 116.8,376.7 117.2,376.0 117.6,375.4 118.0,374.8 118.4,375.4 118.8,374.5 119.2,373.4 119.6,373.2 120.0,372.2 120.0,373.0 120.0,369.5 120.0,372.5 120.0,373.4 120.4,372.4 120.8,372.5 121.2,371.8 121.6,371.4 122.0,370.3 122.4,370.9 122.8,369.3 123.2,369.3 123.6,369.1 124.0,369.2 124.4,368.1 124.8,368.7 125.2,368.5 125.6,367.2 126.0,367.4 126.4,366.4 126.8,366.6 127.2,365.9 127.6,366.8 128.0,365.9 128.4,366.3 128.8,365.9 129.2,365.8 129.6,364.7 130.0,364.3 130.4,364.8 130.8,364.1 131.2,364.6 131.6,364.0 132.0,364.0 132.4,364.4 132.8,363.7 133.2,363.0 133.6,362.9 134.0,363.2 134.4,363.1 134.8,363.1 135.2,362.6 135.6,362.8 136.0,362.3 136.4,362.4 136.8,362.5 137.2,361.6 137.6,361.7 138.0,361.7 138.4,361.8 138.8,361.1 139.2,361.3 139.6,361.3 140.0,361.5 140.4,360.7 140.8,360.9 141.2,360.2 141.6,360.5 142.0,359.9 142.4,360.7 142.8,360.0 143.2,360.4 143.6,359.7 144.0,360.3 144.4,359.5 144.8,359.3 145.2,359.6 145.6,359.8 146.0,359.8 146.4,359.4 146.8,358.6 147.2,359.2 147.6,358.7 148.0,359.3 148.4,359.5 148.8,358.9 149.2,359.0 149.6,358.3 150.0,358.9 150.4,358.3 150.8,358.9 151.2,358.6 151.6,359.1 152.0,358.1 152.4,358.2 152.8,358.9 153.2,358.7 153.6,358.7 154.0,359.1 154.4,358.6 154.8,359.0 155.2,358.6 155.6,359.2 156.0,358.8 156.4,358.2 156.8,358.5 157.2,359.2 157.6,358.5 158.0,358.3 158.4,358.7 158.8,358.7 159.2,359.0 159.6,358.8 160.0,358.6 160.4,358.8 160.8,358.9 161.2,359.5 161.6,359.7 162.0,359.3 162.4,358.6 162.8,359.5 163.2,359.5 163.6,359.8 164.0,359.2 164.4,358.9 164.8,359.7 165.2,359.1 165.6,360.1 166.0,360.2 166.4,359.8 166.8,360.6 167.2,359.6 167.6,360.7 168.0,360.2 168.4,360.7 168.8,360.8 169.2,361.2 169.6,361.3 170.0,360.2 170.4,360.3 170.8,361.1 171.2,360.5 171.6,361.4 172.0,361.4 172.4,361.7 172.8,361.5 173.2,361.4 173.6,362.4 174.0,362.2 174.4,361.4 174.8,361.7 175.2,362.5 175.6,362.2 176.0,362.4 176.4,363.0 176.8,362.6 177.2,363.5 177.6,363.3 178.0,363.2 178.4,362.9 178.8,363.3 179.2,363.9 179.6,364.3 180.0,363.2 180.4,363.4 180.8,364.4 181.2,364.6 181.6,363.8 182.0,364.9 182.4,364.9 182.8,364.9 183.2,364.6 183.6,364.9 184.0,364.9 184.4,365.7 184.8,365.1 185.2,365.2 185.6,366.2 186.0,366.3 186.4,366.5 186.8,366.4 187.2,365.6 187.6,365.7 188.0,366.5 188.4,367.0 188.8,367.1 189.2,366.9 189.6,367.5 190.0,366.5 190.4,366.8 190.8,367.0 191.2,367.0 191.6,367.2 192.0,367.1 192.4,367.5 192.8,367.2 193.2,368.0 193.6,368.6 194.0,368.1 194.4,368.4 194.8,368.5 195.2,369.1 195.6,368.9 196.0,369.1 196.4,368.6 196.8,369.5 197.2,368.6 197.6,369.0 198.0,369.6 198.4,369.2 198.8,370.0 199.2,370.1 199.6,369.3 200.0,369.4 200.4,369.3 200.8,370.5 201.2,369.9 201.6,370.1 202.0,370.0 202.4,370.0 202.8,370.5 203.2,370.3 203.6,370.9 204.0,370.5 204.4,371.0 204.8,371.7 205.2,371.0 205.6,371.9 206.0,370.8 206.4,371.6 206.8,371.7 207.2,372.3 207.6,372.4 208.0,371.9 208.4,372.4 208.8,372.7 209.2,372.5 209.6,372.9 210.0,373.0 210.4,372.5 210.8,372.8 211.2,372.3 211.6,372.7 212.0,373.3 212.4,373.1 212.8,372.8 213.2,372.6 213.6,372.9 214.0,372.8 214.4,373.0 214.8,373.3 215.2,373.0 215.6,374.1 216.0,373.6 216.4,373.9 216.8,374.1 217.2,373.5 217.6,373.5 218.0,373.7 218.4,374.8 218.8,373.8 219.2,374.3 219.6,374.9 220.0,374.6 220.4,373.9 220.8,375.1 221.2,374.6 221.6,374.3 222.0,374.6 222.4,375.0 222.8,374.4 223.2,375.2 223.6,375.2 224.0,374.8 224.4,375.1 224.8,374.9 225.2,374.7 225.6,375.5 226.0,375.4 226.4,376.0 226.8,375.2 227.2,375.6 227.6,375.9 228.0,375.2 228.4,375.6 228.8,376.1 229.2,375.6 229.6,375.8 230.0,376.1 230.4,375.9 230.8,376.6 231.2,376.6 231.6,376.6 232.0,376.1 232.4,375.9 232.8,376.5 233.2,376.3 233.6,376.4 234.0,376.7 234.4,377.1 234.8,377.0 235.2,376.1 235.6,377.2 236.0,376.9 236.4,376.5 236.8,377.1 237.2,376.8 237.6,376.9 238.0,377.0 238.4,376.4 238.8,376.7 239.2,376.9 239.6,376.4 240.0,377.3 240.4,376.8 240.8,377.0 241.2,377.6 241.6,377.6 242.0,376.8 242.4,377.0 242.8,377.2 243.2,376.7 243.6,377.6 244.0,377.0 244.4,376.7 244.8,377.5 245.2,377.3 245.6,376.7 246.0,377.4 246.4,377.6 246.8,376.7 247.2,377.5 247.6,377.0 248.0,377.3 248.4,376.8 248.8,377.4 249.2,378.0 249.6,377.1 250.0,376.8 250.4,377.9 250.8,378.0 251.2,377.4 251.6,378.0 252.0,378.0 252.4,377.7 252.8,377.9 253.2,377.0 253.6,377.9 254.0,377.3 254.4,377.2 254.8,377.5 255.2,377.9 255.6,377.4 256.0,376.9 256.4,377.2 256.8,377.2 257.2,377.7 257.6,378.1 258.0,377.6 258.4,377.2 258.8,377.8 259.2,377.0 259.6,376.9 260.0,377.7 260.4,377.3 260.8,377.4 261.2,376.9 261.6,377.5 262.0,377.6 262.4,378.1 262.8,376.9 263.2,377.5 263.6,377.4 264.0,377.6 264.4,377.9 264.8,377.4 265.2,377.5 265.6,377.4 266.0,377.8 266.4,377.9 266.8,377.2 267.2,377.7 267.6,377.6 268.0,377.2 268.4,377.7 268.8,377.6 269.2,377.3 269.6,377.4 270.0,377.9 270.4,377.5 270.8,377.4 271.2,377.1 271.6,377.6 272.0,377.7 272.4,377.0 272.8,377.0 273.2,377.4 273.6,376.9 274.0,376.6 274.4,376.8 274.8,377.3 275.2,377.1 275.6,377.1 276.0,377.2 276.4,377.0 276.8,377.5 277.2,377.3 277.6,377.5 278.0,377.1 278.4,377.2 278.8,377.1 279.2,377.3 279.6,376.5 280.0,376.5 280.4,376.0 280.8,376.1 281.2,377.2 281.6,376.5 282.0,376.0 282.4,376.0 282.8,376.5 283.2,376.6 283.6,376.8 284.0,376.4 284.4,376.0 284.8,376.5 285.2,375.7 285.6,375.9 286.0,375.6 286.4,376.2 286.8,376.0 287.2,375.8 287.6,375.5 288.0,376.2 288.4,375.6 288.8,376.2 289.2,375.3 289.6,375.7 290.0,375.8 290.4,375.0 290.8,375.0 291.2,375.7 291.6,374.7 292.0,375.2 292.4,374.6 292.8,375.7 293.2,375.5 293.6,374.6 294.0,375.3 294.4,375.1 294.8,374.2 295.2,374.4 295.6,374.8 296.0,374.8 296.4,374.3 296.8,373.9 297.2,374.3 297.6,374.6 298.0,374.2 298.4,373.7 298.8,373.8 299.2,374.3 299.6,373.8 300.0,374.1 300.4,373.3 300.8,373.9 301.2,373.9 301.6,374.0 302.0,373.1 302.4,373.8 302.8,373.3 303.2,372.9 303.6,372.4 304.0,373.2 304.4,373.5 304.8,372.9 305.2,372.4 305.6,372.4 306.0,372.5 306.4,373.0 306.8,372.2 307.2,372.1 307.6,372.1 308.0,371.7 308.4,371.6 308.8,372.2 309.2,372.2 309.6,371.4 310.0,371.5 310.4,371.9 310.8,371.6 311.2,371.1 311.6,371.7 312.0,371.4 312.4,370.8 312.8,370.3 313.2,371.0 313.6,371.0 314.0,370.5 314.4,370.6 315.0,370.0 315.0,367.0 315.0,370.0 314.8,369.4 315.2,370.1 315.6,370.2 316.0,369.4 316.4,369.1 316.8,369.9 317.2,369.6 317.6,368.9 318.0,369.1 318.4,368.5 318.8,368.4 319.2,368.8 319.6,368.7 320.0,368.7 320.4,368.3 320.8,368.3 321.2,367.3 321.6,367.9 322.0,368.1 322.4,367.8 322.8,367.5 323.2,367.5 323.6,366.8 324.0,366.4 324.4,366.7 324.8,366.5 325.2,365.6 325.6,365.8 326.0,366.0 326.4,365.2 326.8,365.1 327.2,365.3 327.6,364.8 328.0,365.1 328.4,365.3 328.8,364.8 329.2,364.1 329.6,365.1 330.0,364.1 330.4,363.6 330.8,364.1 331.2,364.4 331.6,364.4 332.0,363.2 332.4,363.0 332.8,363.8 333.2,363.7 333.6,363.6 334.0,363.3 334.4,363.2 334.8,363.0 335.2,361.8 335.6,361.8 336.0,361.5 336.4,361.3 336.8,362.4 337.2,362.2 337.6,361.5 338.0,360.8 338.4,360.6 338.8,361.4 339.2,361.3 339.6,360.7 340.0,360.7 340.4,360.3 340.8,360.3 341.2,360.5 341.6,359.6 342.0,358.9 342.4,358.8 342.8,359.3 343.2,358.4 343.6,358.3 344.0,359.1 344.4,359.0 344.8,357.8 345.2,357.8 345.6,358.6 346.0,358.3 346.4,357.8 346.8,357.4 347.2,357.7 347.6,357.1 348.0,357.6 348.4,357.2 348.8,356.8 349.2,356.0 349.6,356.6 350.0,355.7 350.4,355.5 350.8,356.3 351.2,355.8 351.6,355.6 352.0,355.6 352.4,355.7 352.8,355.6 353.2,354.3 353.6,354.1 354.0,354.0 354.4,355.1 354.8,354.3 355.2,354.0 355.6,354.1 356.0,353.3 356.4,353.5 356.8,353.3 357.2,353.6 357.6,352.8 358.0,353.7 358.4,352.3 358.8,352.3 359.2,352.2 359.6,353.1 360.0,352.0 360.4,352.4 360.8,352.2 361.2,351.6 361.6,351.3 362.0,351.7 362.4,350.7 362.8,350.4 363.2,350.7 363.6,350.4 364.0,349.9 364.4,349.7 364.8,350.0 365.2,350.4 365.6,349.9 366.0,349.0 366.4,349.0 366.8,349.3 367.2,348.3 367.6,348.2 368.0,347.9 368.4,348.2 368.8,348.2 369.2,348.4 369.6,347.1 370.0,347.1 370.4,347.2 370.8,347.2 371.2,346.9 371.6,347.6 372.0,346.7 372.4,347.3 372.8,347.2 373.2,346.2 373.6,345.9 374.0,346.6 374.4,345.4 374.8,345.4 375.2,345.4 375.6,345.0 376.0,345.7 376.4,344.8 376.8,345.0 377.2,345.2 377.6,345.3 378.0,344.4 378.4,344.8 378.8,344.9 379.2,344.0 379.6,344.4 380.0,344.1 380.4,343.6 380.8,344.2 381.2,343.4 381.6,344.0 382.0,343.7 382.4,344.0 382.8,343.4 383.2,343.8 383.6,343.0 384.0,343.0 384.4,343.1 384.8,343.1 385.2,342.4 385.6,342.0 386.0,342.7 386.4,342.7 386.8,342.7 387.2,342.2 387.6,342.4 388.0,341.4 388.4,341.5 388.8,341.5 389.2,341.3 389.6,341.2 390.0,341.5 390.4,341.6 390.8,341.1 391.2,341.3 391.6,341.0 392.0,341.0 392.4,340.8 392.8,340.1 393.2,340.9 393.6,339.9 394.0,339.9 394.4,340.2 394.8,340.3 395.2,340.5 395.6,339.4 396.0,339.2 396.4,339.8 396.8,339.7 397.2,339.8 397.6,339.0 398.0,339.7 398.4,338.6 398.8,338.6 399.2,338.6 399.6,338.4 400.0,338.3 400.4,339.0 400.8,339.4 401.2,338.6 401.6,338.2 402.0,338.3 402.4,338.2 402.8,338.7 403.2,338.5 403.6,338.4 404.0,338.9 404.4,337.9 404.8,338.3 405.2,337.9 405.6,338.3 406.0,337.7 406.4,338.3 406.8,337.5 407.2,338.0 407.6,337.4 408.0,338.0 408.4,337.7 408.8,337.3 409.2,337.9 409.6,337.0 410.0,337.8 410.4,337.8 410.8,337.5 411.2,337.5 411.6,337.7 412.0,337.4 412.4,336.8 412.8,336.7 413.2,337.9 413.6,337.2 414.0,337.4 414.4,337.0 414.8,337.0 415.2,337.4 415.6,336.9 416.0,336.6 416.4,336.9 416.8,336.6 417.2,337.7 417.6,337.5 418.0,337.2 418.4,336.5 418.8,336.9 419.2,337.5 419.6,337.2 420.0,336.9 420.4,336.8 420.8,336.6 421.2,336.4 421.6,337.1 422.0,337.2 422.4,336.6 422.8,337.1 423.2,336.9 423.6,336.5 424.0,337.1 424.4,337.4 424.8,337.2 425.2,336.9 425.6,336.4 426.0,336.7 426.4,337.2 426.8,337.3 427.2,336.8 427.6,336.7 428.0,337.4 428.4,336.5 428.8,337.0 429.2,337.2 429.6,337.1 430.0,336.5 430.4,336.7 430.8,336.7 431.2,337.2 431.6,336.8 432.0,337.5 432.4,336.7 432.8,337.2 433.2,337.8 433.6,338.0 434.0,337.2 434.4,337.1 434.8,336.9 435.2,337.9 435.6,337.1 436.0,338.4 436.4,337.6 436.8,338.5 437.2,338.3 437.6,337.9 438.0,337.9 438.4,338.4 438.8,338.8 439.2,338.0 439.6,338.6 440.0,338.4 440.4,338.0 440.8,338.1 441.2,338.2 441.6,338.2 442.0,338.7 442.4,339.4 442.8,339.7 443.2,339.1 443.6,339.7 444.0,340.0 444.4,339.2 444.8,339.8 445.2,340.4 445.6,340.0 446.0,340.3 446.4,339.7 446.8,340.2 447.2,340.2 447.6,340.9 448.0,340.2 448.4,341.1 448.8,341.0 449.2,341.2 449.6,341.7 450.0,341.6 450.4,341.5 450.8,341.3 451.2,341.5 451.6,341.5 452.0,341.6 452.4,342.3 452.8,342.1 453.2,343.0 453.6,342.1 454.0,342.9 454.4,342.5 454.8,343.4 455.2,343.1 455.6,343.7 456.0,343.9 456.4,344.2 456.8,344.0 457.2,344.0 457.6,344.0 458.0,344.6 458.4,344.3 458.8,345.1 459.2,345.0 459.6,344.9 460.0,344.7 460.4,345.0 460.8,344.9 461.2,345.9 461.6,346.0 462.0,346.3 462.4,346.1 462.8,347.0 463.2,346.1 463.6,346.6 464.0,347.0 464.4,346.6 464.8,347.8 465.2,347.4 465.6,347.6 466.0,348.3 466.4,348.9 466.8,348.1 467.2,348.9 467.6,349.1 468.0,350.0 468.4,349.5 468.8,349.4 469.2,350.8 469.6,350.4 470.0,350.7 470.4,351.0 470.8,350.9 471.2,351.7 471.6,352.1 472.0,352.2 472.4,352.5 472.8,352.5 473.2,353.1 473.6,352.7 474.0,353.4 474.4,353.2 474.8,354.2 475.2,355.0 475.6,355.3 476.0,355.4 476.4,355.5 476.8,356.1 477.2,355.7 477.6,356.1 478.0,356.5 478.4,357.0 478.8,357.9 479.2,358.2 479.6,358.2 480.0,358.5 480.4,358.4 480.8,359.1 481.2,359.8 481.6,360.5 482.0,360.5 482.4,361.0 482.8,361.5 483.2,361.8 483.6,362.4 484.0,362.6 484.4,363.2 484.8,363.7 485.2,364.1 485.6,364.4 486.0,363.8 486.4,365.0 486.8,364.8 487.2,366.3 487.6,366.2 488.0,366.0 488.4,366.9 488.8,368.0 489.2,368.5 489.6,369.1 490.0,369.2 490.4,369.8 490.8,369.4 491.2,370.2 491.6,370.5 492.0,371.6 492.4,371.9 492.8,372.1 493.2,373.3 493.6,374.0 494.0,373.7 494.4,375.2 494.8,375.0 495.2,376.2 495.6,376.5 496.0,376.9 496.4,377.4 496.8,378.5 497.2,378.7 497.6,379.5 498.0,380.3 498.4,379.9 498.8,380.5 499.2,381.6 499.6,381.5 500.0,382.0 500.4,383.6 500.8,384.1 501.2,384.7 501.6,384.4 502.0,385.3 502.4,385.8 502.8,385.8 503.2,386.4 503.6,387.1 504.0,388.0 504.4,388.3 504.8,388.7 505.2,389.7 505.6,390.8 506.0,390.4 506.4,391.7 506.8,391.9 507.2,393.2 507.6,393.5 508.0,394.2 508.4,394.6 508.8,395.0 509.2,394.7 509.6,395.7 510.0,395.7 510.4,397.4 510.8,397.4 511.2,397.4 511.6,397.9 512.0,398.5 512.4,399.4 512.8,399.4 513.2,400.7 513.6,400.3 514.0,401.5 514.4,401.6 514.8,401.5 515.2,402.2 515.6,402.6 516.0,404.0 516.4,403.7 516.8,404.4 517.2,404.4 517.6,405.5 518.0,405.5 518.4,405.9 518.8,406.8 519.2,406.3 519.6,407.0 520.0,407.7 520.4,408.0 520.8,408.5 521.2,409.3 521.6,408.7 522.0,409.2 522.4,410.3 522.8,410.2 523.2,409.9 523.6,411.5 524.0,411.8 524.4,411.5 524.8,411.9 525.2,413.0 525.6,412.5 526.0,412.6 526.4,413.6 526.8,413.4 527.2,413.7 527.6,414.7 528.0,414.2 528.4,415.7 528.8,415.0 529.2,415.5 529.6,416.6 530.0,416.5 530.4,416.0 530.8,417.4 531.2,417.0 531.6,417.0 532.0,417.5 532.4,418.2 532.8,418.7 533.2,418.7 533.6,418.9 534.0,419.5 534.4,420.0 534.8,419.7 535.2,419.4 535.6,419.7 536.0,421.0 536.4,421.2 536.8,421.2 537.2,421.2 537.6,421.7 538.0,421.8 538.4,421.9 538.8,421.8 539.2,422.2 539.6,421.9 540.0,422.7 540.4,422.8 540.8,422.6 541.2,422.2 541.6,422.7 542.0,422.9 542.4,422.7 542.8,423.3 543.2,422.7 543.6,423.1 544.0,423.0 544.4,423.6 544.8,423.2 545.2,423.3 545.6,424.4 546.0,423.6 546.4,424.0 546.8,423.7 547.2,423.5 547.6,424.4 548.0,424.0 548.4,424.1 548.8,423.6 549.2,423.8 549.6,424.3 550.0,424.4 550.4,424.3 550.8,424.6 551.2,423.8 551.6,424.4 552.0,424.1 552.4,424.0 552.8,424.0 553.2,424.0 553.6,423.6 554.0,422.7 554.4,422.8 554.8,423.1 555.2,423.0 555.6,423.4 556.0,422.8 556.4,423.0 556.8,422.6 557.2,421.7 557.6,421.9 558.0,421.9 558.4,421.3 558.8,421.5" fill="none" stroke="#00c000" stroke-width="1"/>
</g>
<g class="g">
<rect x="65" y="39" width="554" height="1" fill="#000"/>
<rect x="65" y="213" width="554" height="1" fill="#000"/>
<rect x="65" y="39" width="1" height="175" fill="#000"/>
<rect x="618" y="39" width="1" height="175" fill="#000"/>
<rect x="134" y="209" width="1" height="5" fill="#000"/>
<rect x="134" y="39" width="1" height="5" fill="#000"/>
<rect x="203" y="209" width="1" height="5" fill="#000"/>
<rect x="203" y="39" width="1" height="5" fill="#000"/>
<rect x="272" y="209" width="1" height="5" fill="#000"/>
<rect x="272" y="39" width="1" height="5" fill="#000"/>
<rect x="342" y="209" width="1" height="5" fill="#000"/>
<rect x="342" y="39" width="1" height="5" fill="#000"/>
<rect x="411" y="209" width="1" height="5" fill="#000"/>
<rect x="411" y="39" width="1" height="5" fill="#000"/>
<rect x="480" y="209" width="1" height="5" fill="#000"/>
<rect x="480" y="39" width="1" height="5" fill="#000"/>
<rect x="549" y="209" width="1" height="5" fill="#000"/>
<rect x="549" y="39" width="1" height="5" fill="#000"/>
<rect x="65" y="188" width="5" height="1" fill="#000"/>
<rect x="614" y="188" width="5" height="1" fill="#000"/>
<rect x="65" y="163" width="5" height="1" fill="#000"/>
<rect x="614" y="163" width="5" height="1" fill="#000"/>
<rect x="65" y="138" width="5" height="1" fill="#000"/>
<rect x="614" y="138" width="5" height="1" fill="#000"/>
<rect x="65" y="114" width="5" height="1" fill="#000"/>
<rect x="614" y="114" width="5" height="1" fill="#000"/>
<rect x="65" y="89" width="5" height="1" fill="#000"/>
<rect x="614" y="89" width="5" height="1" fill="#000"/>
<rect x="65" y="64" width="5" height="1" fill="#000"/>
<rect x="614" y="64" width="5" height="1" fill="#000"/>
<rect x="572" y="49" width="33" height="1" fill="#ff0000"/>
<rect x="572" y="62" width="33" height="1" fill="#00c000"/>
<rect x="58" y="253" width="561" height="1" fill="#000"/>
<rect x="58" y="438" width="561" height="1" fill="#000"/>
<rect x="58" y="253" width="1" height="186" fill="#000"/>
<rect x="618" y="253" width="1" height="186" fill="#000"/>
<rect x="120" y="434" width="1" height="5" fill="#000"/>
<rect x="120" y="253" width="1" height="5" fill="#000"/>
<rect x="182" y="434" width="1" height="5" fill="#000"/>
<rect x="182" y="253" width="1" height="5" fill="#000"/>
<rect x="245" y="434" width="1" height="5" fill="#000"/>
<rect x="245" y="253" width="1" height="5" fill="#000"/>
<rect x="307" y="434" width="1" height="5" fill="#000"/>
<rect x="307" y="253" width="1" height="5" fill="#000"/>
<rect x="369" y="434" width="1" height="5" fill="#000"/>
<rect x="369" y="253" width="1" height="5" fill="#000"/>
<rect x="431" y="434" width="1" height="5" fill="#000"/>
<rect x="431" y="253" width="1" height="5" fill="#000"/>
<rect x="494" y="434" width="1" height="5" fill="#000"/>
<rect x="494" y="253" width="1" height="5" fill="#000"/>
<rect x="556" y="434" width="1" height="5" fill="#000"/>
<rect x="556" y="253" width="1" height="5" fill="#000"/>
<rect x="58" y="412" width="5" height="1" fill="#000"/>
<rect x="614" y="412" width="5" height="1" fill="#000"/>
<rect x="58" y="385" width="5" height="1" fill="#000"/>
<rect x="614" y="385" width="5" height="1" fill="#000"/>
<rect x="58" y="359" width="5" height="1" fill="#000"/>
<rect x="614" y="359" width="5" height="1" fill="#000"/>
<rect x="58" y="332" width="5" height="1" fill="#000"/>
<rect x="614" y="332" width="5" height="1" fill="#000"/>
<rect x="58" y="306" width="5" height="1" fill="#000"/>
<rect x="614" y="306" width="5" height="1" fill="#000"/>
<rect x="58" y="279" width="5" height="1" fill="#000"/>
<rect x="614" y="279" width="5" height="1" fill="#000"/>
<rect x="572" y="263" width="33" height="1" fill="#ff0000"/>
<rect x="572" y="276" width="33" height="1" fill="#00c000"/>
</g>
<g>
<text x="54.5" y="231.2" text-anchor="start">1414</text>
<text x="123.5" y="231.2" text-anchor="start">1416</text>
<text x="192.5" y="231.2" text-anchor="start">1418</text>
<text x="261.5" y="231.2" text-anchor="start">1420</text>
<text x="331.5" y="231.2" text-anchor="start">1422</text>
<text x="400.5" y="231.2" text-anchor="start">1424</text>
<text x="469.5" y="231.2" text-anchor="start">1426</text>
<text x="538.5" y="231.2" text-anchor="start">1428</text>
<text x="607.5" y="231.2" text-anchor="start">1430</text>
<text x="50.5" y="218.2" text-anchor="start">0</text>
<text x="36.5" y="193.2" text-anchor="start">200</text>
<text x="36.5" y="168.2" text-anchor="start">400</text>
<text x="36.5" y="143.2" text-anchor="start">600</text>
<text x="36.5" y="119.2" text-anchor="start">800</text>
<text x="29.5" y="94.2" text-anchor="start">1000</text>
<text x="29.5" y="69.2" text-anchor="start">1200</text>
<text x="29.5" y="44.2" text-anchor="start">1400</text>
<text x="543.5" y="54.2" text-anchor="start">XL1</text>
<text x="543.5" y="67.2" text-anchor="start">YR1</text>
<text x="14.2" y="170.5" text-anchor="start" transform="rotate(-90 14.2 170.5)">Uncalibrated</text>
<text x="47.5" y="456.2" text-anchor="start">1398</text>
<text x="109.5" y="456.2" text-anchor="start">1400</text>
<text x="171.5" y="456.2" text-anchor="start">1402</text>
<text x="234.5" y="456.2" text-anchor="start">1404</text>
<text x="296.5" y="456.2" text-anchor="start">1406</text>
<text x="358.5" y="456.2" text-anchor="start">1408</text>
<text x="420.5" y="456.2" text-anchor="start">1410</text>
<text x="483.5" y="456.2" text-anchor="start">1412</text>
<text x="545.5" y="456.2" text-anchor="start">1414</text>
<text x="607.5" y="456.2" text-anchor="start">1416</text>
<text x="29.5" y="443.2" text-anchor="start">100</text>
<text x="29.5" y="417.2" text-anchor="start">150</text>
<text x="29.5" y="390.2" text-anchor="start">200</text>
<text x="29.5" y="364.2" text-anchor="start">250</text>
<text x="29.5" y="337.2" text-anchor="start">300</text>
<text x="29.5" y="311.2" text-anchor="start">350</text>
<text x="29.5" y="284.2" text-anchor="start">400</text>
<text x="29.5" y="258.2" text-anchor="start">450</text>
<text x="543.5" y="268.2" text-anchor="start">XL2</text>
<text x="543.5" y="281.2" text-anchor="start">YR2</text>
<text x="14.2" y="389.5" text-anchor="start" transform="rotate(-90 14.2 389.5)">Uncalibrated</text>
<text x="92.5" y="24.2" text-anchor="start">HIRES Spectrum, gl72, file:Skynet<tspan dy="-2.6">_</tspan><tspan dy="2.6">60990</tspan><tspan dy="-2.6">_</tspan><tspan dy="2.6">gl72</tspan><tspan dy="-2.6">_</tspan><tspan dy="2.6">142245</tspan><tspan dy="-2.6">_</tspan><tspan dy="2.6">93033.spect.cyb.txt</tspan></text>
<text x="187.5" y="475.2" text-anchor="start">Frequency(MHz) date 2025-11-11T01:29:32.000</text>
</g>
</svg>
</body></html>
